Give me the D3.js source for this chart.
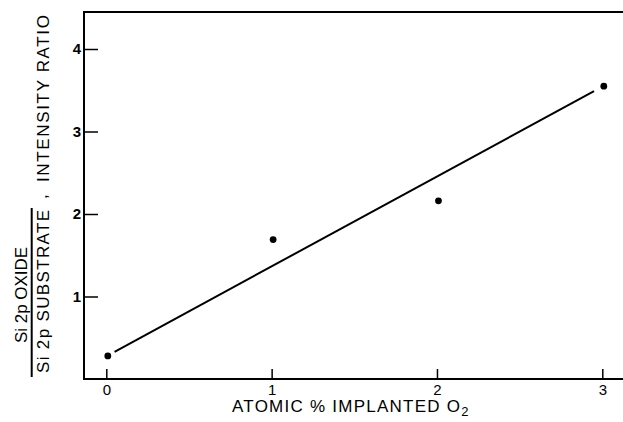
<!DOCTYPE html>
<html>
<head>
<meta charset="utf-8">
<script src="https://cdn.jsdelivr.net/npm/d3@7"></script>
<style>
  html, body { margin: 0; padding: 0; background: #fff; }
  svg { display: block; }
  text { font-family: "Liberation Sans", Arial, sans-serif; fill: #000; }
</style>
</head>
<body>
<svg id="chart" width="623" height="422"></svg>
<script>
// ---- data ----
const implantedO2 = [0, 1, 2, 3];            // atomic % implanted O2
const intensityRatio = [0.28, 1.69, 2.16, 3.55];
const fitX = [0.05, 2.95];                    // least-squares line endpoints
const fitY = [0.33, 3.49];
const xTicks = [0, 1, 2, 3];
const yTicks = [1, 2, 3, 4];
const xTitle = "ATOMIC % IMPLANTED O";
const xTitleSub = "2";
const yNumerator = "Si 2p OXIDE";
const yDenominator = "Si 2p  SUBSTRATE";
const yRest = "INTENSITY RATIO";

// ---- layout ----
const W = 623, H = 422;
const frame = { left: 84, right: 623, top: 12, bottom: 379 };

const svg = d3.select("#chart");

const x = d3.scaleLinear().domain([0, 3]).range([106.3, 602.3]);
const y = d3.scaleLinear().domain([0, 4]).range([379, 49]);

// frame (left, top, bottom; right side cropped)
svg.append("path")
  .attr("d", `M${frame.right},${frame.top}H${frame.left}V${frame.bottom}H${frame.right}`)
  .attr("fill", "none").attr("stroke", "#000").attr("stroke-width", 2);

// x axis (ticks inward)
const xAxis = d3.axisBottom(x).tickValues(xTicks).tickSize(-10).tickPadding(5)
  .tickFormat(d3.format("d"));
const gx = svg.append("g").attr("transform", `translate(0,${frame.bottom})`).call(xAxis);
gx.select(".domain").remove();
gx.selectAll(".tick line").attr("stroke", "#000").attr("stroke-width", 1.5);
gx.selectAll(".tick text").attr("font-size", 15).attr("font-family", "Liberation Sans, Arial, sans-serif");

// y axis (ticks inward)
const yAxis = d3.axisLeft(y).tickValues(yTicks).tickSize(-14).tickPadding(3)
  .tickFormat(d3.format("d"));
const gy = svg.append("g").attr("transform", `translate(${frame.left},0)`).call(yAxis);
gy.select(".domain").remove();
gy.selectAll(".tick line").attr("stroke", "#000").attr("stroke-width", 1.5);
gy.selectAll(".tick text").attr("font-size", 15).attr("font-weight", "bold")
  .attr("font-family", "Liberation Sans, Arial, sans-serif");

// fit line
svg.append("path")
  .datum(d3.zip(fitX, fitY))
  .attr("d", d3.line().x(d => x(d[0])).y(d => y(d[1])))
  .attr("fill", "none").attr("stroke", "#000").attr("stroke-width", 2);

// data points
svg.selectAll("circle.pt")
  .data(d3.zip(implantedO2, intensityRatio))
  .enter().append("circle").attr("class", "pt")
  .attr("cx", d => x(d[0]) + 1.5).attr("cy", d => y(d[1])).attr("r", 3.4).attr("fill", "#000");

// x title
const xt = svg.append("text").attr("x", 232).attr("y", 411.5).attr("font-size", 17);
xt.append("tspan").text(xTitle).attr("textLength", 228).attr("lengthAdjust", "spacing");
xt.append("tspan").text(xTitleSub).attr("font-size", 13).attr("dy", 4);

// y title: fraction + ", INTENSITY RATIO"
svg.append("text").attr("transform", "translate(27,343) rotate(-90)")
  .attr("font-size", 17).attr("textLength", 96).attr("lengthAdjust", "spacingAndGlyphs")
  .text(yNumerator);
svg.append("line").attr("x1", 31.7).attr("x2", 31.7).attr("y1", 208).attr("y2", 377)
  .attr("stroke", "#000").attr("stroke-width", 2);
svg.append("text").attr("transform", "translate(49,373) rotate(-90)")
  .attr("font-size", 17).attr("textLength", 163).attr("lengthAdjust", "spacing")
  .text(yDenominator);
svg.append("text").attr("transform", "translate(47,199) rotate(-90)")
  .attr("font-size", 17).text(",");
svg.append("text").attr("transform", "translate(49,182) rotate(-90)")
  .attr("font-size", 17).attr("textLength", 167).attr("lengthAdjust", "spacing")
  .text(yRest);
</script>
</body>
</html>
